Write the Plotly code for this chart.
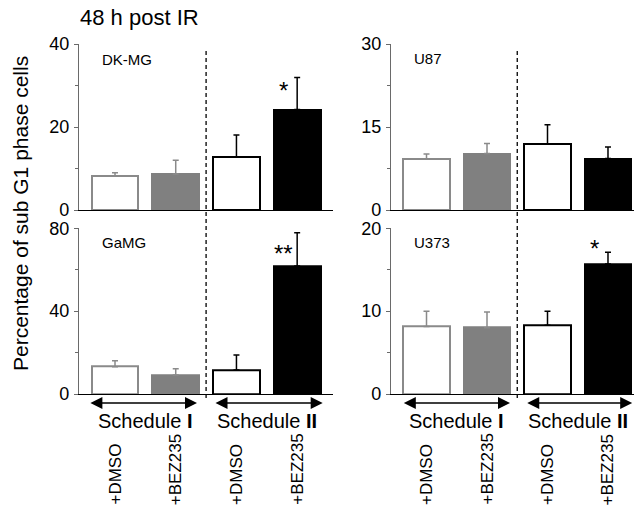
import plotly.graph_objects as go

# ---------------- data ----------------
groups = ["+DMSO", "+BEZ235", "+DMSO", "+BEZ235"]
schedules = ["Schedule <b>I</b>", "Schedule <b>II</b>"]

dkmg_mean = [8.2, 8.7, 12.7, 24.2]
dkmg_err = [0.8, 3.3, 5.4, 7.7]

u87_mean = [9.2, 10.2, 11.9, 9.3]
u87_err = [0.9, 1.8, 3.5, 2.1]

gamg_mean = [13.2, 9.2, 11.6, 61.8]
gamg_err = [2.9, 3.0, 7.2, 16.0]

u373_mean = [8.15, 8.0, 8.3, 15.7]
u373_err = [1.85, 1.9, 1.7, 1.4]

panel_names = ["DK-MG", "U87", "GaMG", "U373"]
y_max = [40, 30, 80, 20]
y_ticks = [[0, 20, 40], [0, 15, 30], [0, 40, 80], [0, 10, 20]]
stars = [("*", 28.7), (None, None), ("**", 68.0), ("*", 17.6)]

# ---------------- figure ----------------
W, H = 634, 514
FONT = "Liberation Sans, Arial, sans-serif"
GRAY = "#808080"
GRAY_LINE = "#8a8a8a"

def px(xp):
    return xp / W

def py(yp):
    return (H - yp) / H

fig = go.Figure()

means = [dkmg_mean, u87_mean, gamg_mean, u373_mean]
errs = [dkmg_err, u87_err, gamg_err, u373_err]
pos = [0, 1, 2, 3]

for i in range(4):
    xa = "x" if i == 0 else f"x{i+1}"
    ya = "y" if i == 0 else f"y{i+1}"
    m = means[i]
    e = errs[i]
    fig.add_trace(go.Bar(
        x=pos[:2], y=m[:2], xaxis=xa, yaxis=ya, width=0.77,
        marker=dict(color=["white", GRAY], line=dict(color=[GRAY_LINE, GRAY], width=2)),
        error_y=dict(type="data", symmetric=False, array=e[:2], arrayminus=[0, 0],
                     color=GRAY_LINE, thickness=1.5, width=3),
        showlegend=False, hoverinfo="skip"))
    fig.add_trace(go.Bar(
        x=pos[2:], y=m[2:], xaxis=xa, yaxis=ya, width=0.77,
        marker=dict(color=["white", "black"], line=dict(color=["black", "black"], width=2)),
        error_y=dict(type="data", symmetric=False, array=e[2:], arrayminus=[0, 0],
                     color="black", thickness=1.5, width=3),
        showlegend=False, hoverinfo="skip"))

# axis geometry
left_dom = [px(79), px(333)]
right_dom = [px(391), 1.0]
top_dom = [py(210), py(44)]
bot_dom = [py(394), py(228.3)]
x_ranges = {"L": [-0.593, 3.59], "R": [-0.587, 3.43]}

layout = dict(
    width=W, height=H, margin=dict(l=0, r=0, t=0, b=0, autoexpand=False),
    plot_bgcolor="white", paper_bgcolor="white",
    font=dict(family=FONT, color="black"),
    bargap=0, barmode="overlay",
)

specs = [("L", top_dom), ("R", top_dom), ("L", bot_dom), ("R", bot_dom)]
for i, (side, ydom) in enumerate(specs):
    xk = "xaxis" if i == 0 else f"xaxis{i+1}"
    yk = "yaxis" if i == 0 else f"yaxis{i+1}"
    ya = "y" if i == 0 else f"y{i+1}"
    xa = "x" if i == 0 else f"x{i+1}"
    layout[xk] = dict(domain=left_dom if side == "L" else right_dom,
                      range=x_ranges[side], anchor=ya, automargin=False,
                      showline=True, linecolor="black", linewidth=1.2,
                      showticklabels=False, ticks="", showgrid=False, zeroline=False)
    tv = y_ticks[i]
    layout[yk] = dict(domain=ydom, range=[0, y_max[i]], anchor=xa, automargin=False,
                      showline=True, linecolor="#6a6a6a", linewidth=1.2,
                      tickvals=tv, ticktext=[str(t) for t in tv],
                      ticks="outside", ticklen=4, tickcolor="#6a6a6a", tickwidth=1,
                      tickfont=dict(size=18, family=FONT, color="black"),
                      minor=dict(tickvals=[tv[1] / 2, (tv[1] + tv[2]) / 2], ticks="outside",
                                 ticklen=3, tickcolor="#6a6a6a", showgrid=False),
                      showgrid=False, zeroline=False, ticklabelstandoff=1)

fig.update_layout(**layout)

annotations = []
shapes = []

# title and y title
annotations.append(dict(text="48 h post IR", xref="paper", yref="paper", x=px(78), y=py(18),
                        xanchor="left", yanchor="middle", showarrow=False,
                        font=dict(size=22, family=FONT)))
annotations.append(dict(text="Percentage of sub G1 phase cells", xref="paper", yref="paper",
                        x=px(21), y=py(214), textangle=-90, xanchor="center", yanchor="middle",
                        showarrow=False, font=dict(size=21, family=FONT)))

# panel labels
label_pos = [(100, 59), (412, 58), (100, 242), (412, 242)]
for name, (lx, ly) in zip(panel_names, label_pos):
    annotations.append(dict(text=name, xref="paper", yref="paper", x=px(lx), y=py(ly),
                            xanchor="left", yanchor="middle", showarrow=False,
                            font=dict(size=15, family=FONT)))

# stars
for i, (s, sy) in enumerate(stars):
    if s is None:
        continue
    xa = "x" if i == 0 else f"x{i+1}"
    ya = "y" if i == 0 else f"y{i+1}"
    annotations.append(dict(text=s, xref=xa, yref=ya, x=2.78, y=sy, xanchor="center",
                            yanchor="middle", showarrow=False, font=dict(size=24, family=FONT)))

# dashed separators
for xa, y0p in [("x", 50), ("x2", 50)]:
    shapes.append(dict(type="line", xref=xa, yref="paper", x0=1.5, x1=1.5,
                       y0=py(398), y1=py(y0p), line=dict(color="black", width=1.3, dash="4px,3px")))

# arrows, schedule labels, group labels
arrow_spans = {"x3": [(-0.43, 1.35), (1.63, 3.42)], "x4": [(-0.40, 1.38), (1.64, 3.40)]}
for xa in ["x3", "x4"]:
    for (a0, a1), sname, cx in zip(arrow_spans[xa], schedules, [0.5, 2.5]):
        annotations.append(dict(text="", xref=xa, yref="paper", x=a1, y=py(403),
                                axref=xa, ax=a0, ayref="pixel", ay=0, showarrow=True,
                                arrowside="end+start", arrowhead=2, arrowsize=1.5,
                                arrowwidth=1.6, arrowcolor="black", standoff=0, startstandoff=0))
        annotations.append(dict(text=sname, xref=xa, yref="paper", x=cx, y=py(421),
                                xanchor="center", yanchor="middle", showarrow=False,
                                font=dict(size=20, family=FONT)))
    for k, g in enumerate(groups):
        annotations.append(dict(text=g, xref=xa, yref="paper", x=pos[k], y=py(507),
                                textangle=-90, xanchor="center", yanchor="bottom",
                                showarrow=False, font=dict(size=17, family=FONT)))

fig.update_layout(annotations=annotations, shapes=shapes)
fig.write_html("out.html")
